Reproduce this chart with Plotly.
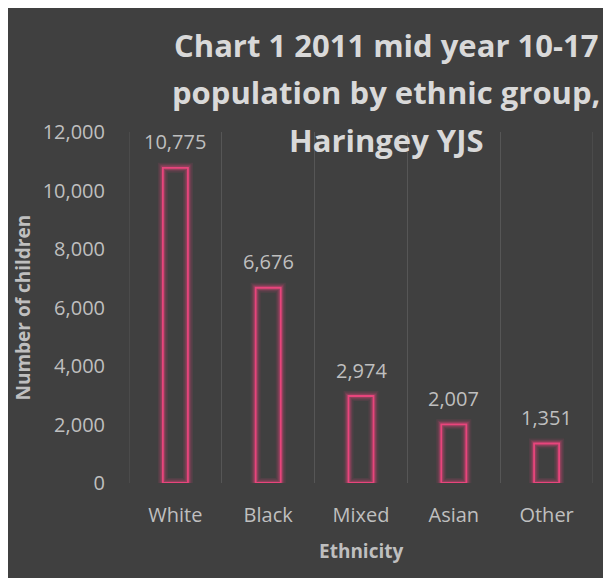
import plotly.graph_objects as go

categories = ["White", "Black", "Mixed", "Asian", "Other"]
values = [10775, 6676, 2974, 2007, 1351]
y_ticks = [0, 2000, 4000, 6000, 8000, 10000, 12000]
y_tick_labels = ["0", "2,000", "4,000", "6,000", "8,000", "10,000", "12,000"]
title_lines = ["Chart 1 2011 mid year 10-17", "population by ethnic group,", "Haringey YJS"]

# page body has an 8px margin, so the figure sits at (8, 8)
OFF = 8
W, H = 603, 570
L, R, T, B = 121, 18, 124, 95
FONT = "'Open Sans', sans-serif"
BG = "#404040"
PINK = "#e8457c"
GRID = "#565656"

fig = go.Figure()
# glow layers
for w, a in [(10, 0.10), (7, 0.16), (4.5, 0.28)]:
    fig.add_trace(go.Bar(x=categories, y=values, width=0.27,
                         marker=dict(color="rgba(0,0,0,0)",
                                     line=dict(color=f"rgba(232,69,124,{a})", width=w)),
                         hoverinfo="skip", showlegend=False))
fig.add_trace(go.Bar(x=categories, y=values, width=0.27,
                     marker=dict(color="rgba(0,0,0,0)", line=dict(color=PINK, width=1.8)),
                     showlegend=False))

px_x = lambda p: (p - OFF - L) / (W - L - R)
px_y = lambda p: (H - B - (p - OFF)) / (H - T - B)

shapes = []
for xb in [-0.5, 4.5]:
    shapes.append(dict(type="line", xref="x", yref="paper", x0=xb, x1=xb, y0=0, y1=1,
                       line=dict(color=GRID, width=1), layer="below"))

annotations = []
title_y = [45, 92, 140]
for line, yy in zip(title_lines, title_y):
    annotations.append(dict(text=f"<b>{line}</b>", xref="paper", yref="paper",
                            x=px_x(386), y=px_y(yy), xanchor="center", yanchor="middle",
                            showarrow=False, font=dict(family=FONT, size=31, color="#d9d9d9")))
# data labels
for c, v in zip(categories, values):
    annotations.append(dict(text=f"{v:,}", x=c, y=v, xref="x", yref="y",
                            xanchor="center", yanchor="middle", yshift=26, showarrow=False,
                            font=dict(family=FONT, size=20, color="#bfbfbf")))
# axis titles
annotations.append(dict(text="<b>Ethnicity</b>", xref="paper", yref="paper",
                        x=0.5, y=px_y(551), xanchor="center", yanchor="middle", showarrow=False,
                        font=dict(family=FONT, size=19, color="#bfbfbf")))
annotations.append(dict(text="<b>Number of children</b>", xref="paper", yref="paper",
                        x=px_x(22), y=0.5, xanchor="center", yanchor="middle", showarrow=False,
                        textangle=-90, font=dict(family=FONT, size=19, color="#bfbfbf")))

fig.update_layout(
    width=W, height=H,
    margin=dict(l=L, r=R, t=T, b=B, pad=0),
    paper_bgcolor=BG, plot_bgcolor="rgba(0,0,0,0)",
    barmode="overlay",
    shapes=shapes, annotations=annotations,
    xaxis=dict(type="category", tickson="boundaries", showgrid=True, gridcolor=GRID, gridwidth=1,
               ticks="", showline=False, zeroline=False, range=[-0.5, 4.5],
               ticklabelstandoff=18,
               tickfont=dict(family=FONT, size=20, color="#bfbfbf")),
    yaxis=dict(range=[0, 12000], tickvals=y_ticks, ticktext=y_tick_labels, showgrid=False,
               zeroline=False, showline=False, ticks="", ticklabelstandoff=23,
               tickfont=dict(family=FONT, size=20, color="#bfbfbf")),
    font=dict(family=FONT),
)
fig.write_html("out.html")
